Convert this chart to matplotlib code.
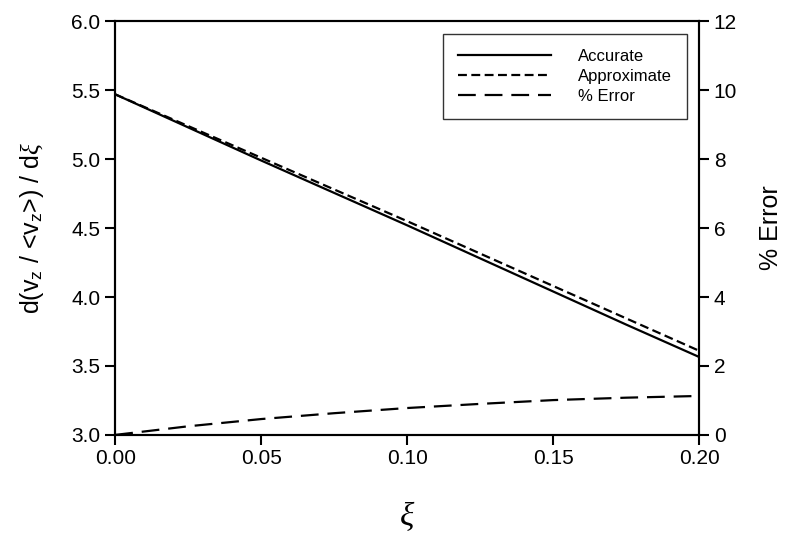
import matplotlib
matplotlib.use('Agg')
import matplotlib.pyplot as plt

plt.rcParams['font.family'] = ['Liberation Sans', 'DejaVu Sans']
plt.rcParams['mathtext.fontset'] = 'custom'
plt.rcParams['mathtext.it'] = 'Liberation Serif:italic'
plt.rcParams['mathtext.rm'] = 'Liberation Sans'

xi = [0.0, 0.025, 0.05, 0.075, 0.10, 0.125, 0.15, 0.175, 0.20]
accurate = [5.47, 5.23, 4.99, 4.755, 4.52, 4.28, 4.04, 3.80, 3.565]
approximate = [5.47, 5.24, 5.01, 4.78, 4.55, 4.315, 4.08, 3.845, 3.61]
pct_error = [0.0, 0.25, 0.46, 0.63, 0.78, 0.90, 1.01, 1.08, 1.13]

fig = plt.figure(figsize=(8, 5.45), dpi=100)
ax = fig.add_axes([0.144, 0.202, 0.730, 0.759])
ax2 = ax.twinx()

l1, = ax.plot(xi, accurate, color='black', lw=1.6, label='Accurate')
l2, = ax.plot(xi, approximate, color='black', lw=1.6, ls=(0, (4, 2)), label='Approximate')
l3, = ax2.plot(xi, pct_error, color='black', lw=1.6, ls=(0, (8, 4)), label='% Error')

ax.set_xlim(0, 0.2)
ax.set_ylim(3.0, 6.0)
ax2.set_ylim(0, 12)
ax.set_xticks([0, 0.05, 0.10, 0.15, 0.20])
ax.set_xticklabels(['0.00', '0.05', '0.10', '0.15', '0.20'])
ax.set_yticks([3.0, 3.5, 4.0, 4.5, 5.0, 5.5, 6.0])
ax.set_yticklabels(['%.1f' % v for v in [3.0, 3.5, 4.0, 4.5, 5.0, 5.5, 6.0]])
ax2.set_yticks([0, 2, 4, 6, 8, 10, 12])

for a in (ax, ax2):
    a.tick_params(direction='out', length=7, width=1.5, labelsize=15)
    for s in a.spines.values():
        s.set_linewidth(1.5)

ax.set_xlabel(r'$\xi$', fontsize=24, labelpad=22)
ax.set_ylabel(r'd(v$_\mathrm{z}$ / <v$_\mathrm{z}$>) / d$\xi$', fontsize=18, labelpad=18)
ax2.set_ylabel('% Error', fontsize=18, labelpad=16)

leg = ax.legend(handles=[l1, l2, l3], loc='upper right', fontsize=12,
                frameon=True, fancybox=False, edgecolor='black',
                handlelength=5.6, borderpad=0.9, labelspacing=0.3,
                handletextpad=1.6, borderaxespad=0,
                bbox_to_anchor=(0.979, 0.969))
leg.get_frame().set_linewidth(1.0)

plt.savefig('out.png', dpi=100)
